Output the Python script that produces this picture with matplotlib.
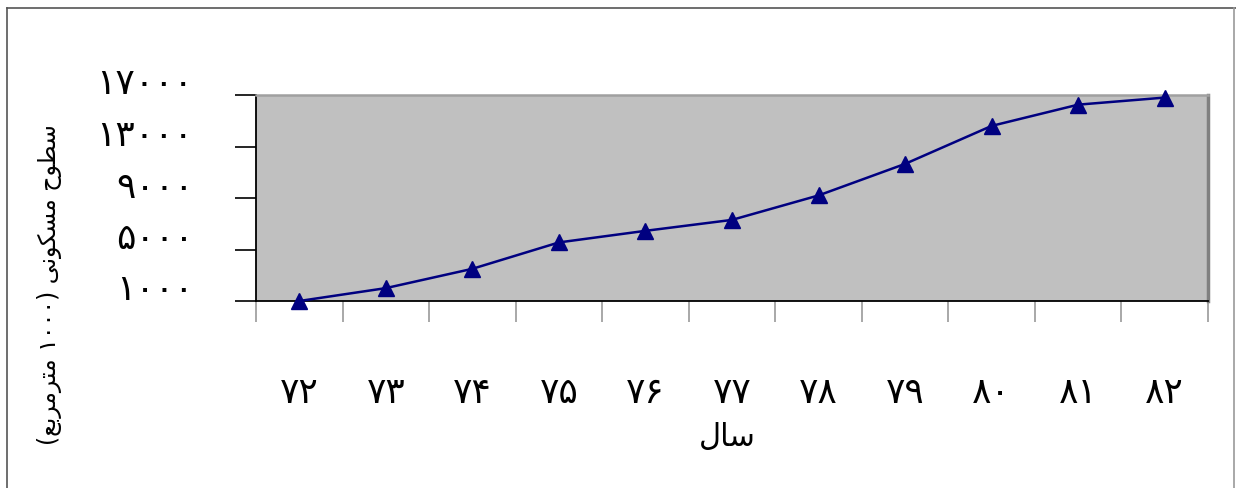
import re
import matplotlib
matplotlib.use('Agg')
import matplotlib.pyplot as plt
import matplotlib.transforms as mtransforms
from matplotlib.lines import Line2D

# داده‌ها
years = [72, 73, 74, 75, 76, 77, 78, 79, 80, 81, 82]
areas = [1000, 2000, 3500, 5550, 6450, 7300, 9200, 11650, 14600, 16250, 16800]
y_ticks = [1000, 5000, 9000, 13000, 17000]
x_title = 'سال'
y_title = 'سطوح مسکونی (۱۰۰۰ مترمربع)'

# شکل‌های حروف (تنها، پایانی، آغازی، میانی)
FORMS = {
    'س': ('\uFEB1', '\uFEB2', '\uFEB3', '\uFEB4'),
    'ط': ('\uFEC1', '\uFEC2', '\uFEC3', '\uFEC4'),
    'و': ('\uFEED', '\uFEEE', None, None),
    'ح': ('\uFEA1', '\uFEA2', '\uFEA3', '\uFEA4'),
    'م': ('\uFEE1', '\uFEE2', '\uFEE3', '\uFEE4'),
    'ک': ('\uFB8E', '\uFB8F', '\uFB90', '\uFB91'),
    'ن': ('\uFEE5', '\uFEE6', '\uFEE7', '\uFEE8'),
    'ی': ('\uFBFC', '\uFBFD', '\uFBFE', '\uFBFF'),
    'ت': ('\uFE95', '\uFE96', '\uFE97', '\uFE98'),
    'ر': ('\uFEAD', '\uFEAE', None, None),
    'ب': ('\uFE8F', '\uFE90', '\uFE91', '\uFE92'),
    'ع': ('\uFEC9', '\uFECA', '\uFECB', '\uFECC'),
    'ا': ('\uFE8D', '\uFE8E', None, None),
    'ل': ('\uFEDD', '\uFEDE', '\uFEDF', '\uFEE0'),
}


def fa(text):
    out = []
    for i, ch in enumerate(text):
        if ch not in FORMS:
            out.append(ch)
            continue
        prev = text[i - 1] if i > 0 else ''
        nxt = text[i + 1] if i + 1 < len(text) else ''
        j_prev = prev in FORMS and FORMS[prev][2] is not None
        j_next = nxt in FORMS and FORMS[ch][2] is not None
        iso, fin, ini, med = FORMS[ch]
        if j_prev and j_next:
            out.append(med)
        elif j_prev:
            out.append(fin)
        elif j_next:
            out.append(ini)
        else:
            out.append(iso)
    vis = ''.join(out)[::-1]
    vis = re.sub('[۰-۹]+', lambda m: m.group(0)[::-1], vis)
    return vis.translate(str.maketrans('()', ')('))


def fa_num(n):
    return str(n).translate(str.maketrans('0123456789', '۰۱۲۳۴۵۶۷۸۹'))


plt.rcParams['font.family'] = ['DejaVu Sans']

fig = plt.figure(figsize=(12.36, 4.88), dpi=100)
ax = fig.add_axes([256 / 1236, 187 / 488, 952 / 1236, 206 / 488])
ax.set_facecolor('#c0c0c0')

x = list(range(len(years)))
ax.plot(x, areas, color='#000080', lw=1.8, marker='^', ms=11, clip_on=False, zorder=5)

ax.set_xlim(-0.5, len(years) - 0.5)
ax.set_ylim(y_ticks[0], y_ticks[-1])

# محور افقی
ax.set_xticks([i - 0.5 for i in range(len(years) + 1)])
ax.set_xticklabels([])
ax.tick_params(axis='x', which='major', length=15, width=1.2, color='#999999', direction='out')
ax.set_xticks(x, minor=True)
ax.set_xticklabels([fa_num(y) for y in years], minor=True, fontsize=26)
ax.tick_params(axis='x', which='minor', length=0, pad=54)

# محور عمودی
ax.set_yticks(y_ticks)
ax.set_yticklabels([fa_num(v) for v in y_ticks], fontsize=26)
ax.tick_params(axis='y', length=15, width=1.2, color='black', pad=30)
offset = mtransforms.ScaledTranslation(0, 14 / 100, fig.dpi_scale_trans)
for lab in ax.get_yticklabels():
    lab.set_transform(lab.get_transform() + offset)

ax.spines['left'].set_color('black')
ax.spines['left'].set_linewidth(1.3)
ax.spines['bottom'].set_color('black')
ax.spines['bottom'].set_linewidth(1.3)
ax.spines['top'].set_color('#a0a0a0')
ax.spines['top'].set_linewidth(1.8)
ax.spines['right'].set_color('#808080')
ax.spines['right'].set_linewidth(2.5)

fig.text(727 / 1236, 1 - 438 / 488, fa(x_title), fontsize=22, ha='center', va='center')
fig.text(50 / 1236, 1 - 285 / 488, fa(y_title), fontsize=17, rotation=90, ha='center', va='center')

# قاب بیرونی
fig.add_artist(Line2D([7 / 1236, 7 / 1236], [0, 1 - 8 / 488], color='#555555', lw=1.2))
fig.add_artist(Line2D([7 / 1236, 1], [1 - 8 / 488, 1 - 8 / 488], color='#555555', lw=1.2))
fig.add_artist(Line2D([1234 / 1236, 1234 / 1236], [0, 1 - 8 / 488], color='#999999', lw=1.2))

fig.savefig('out.png', dpi=100, facecolor='white')
